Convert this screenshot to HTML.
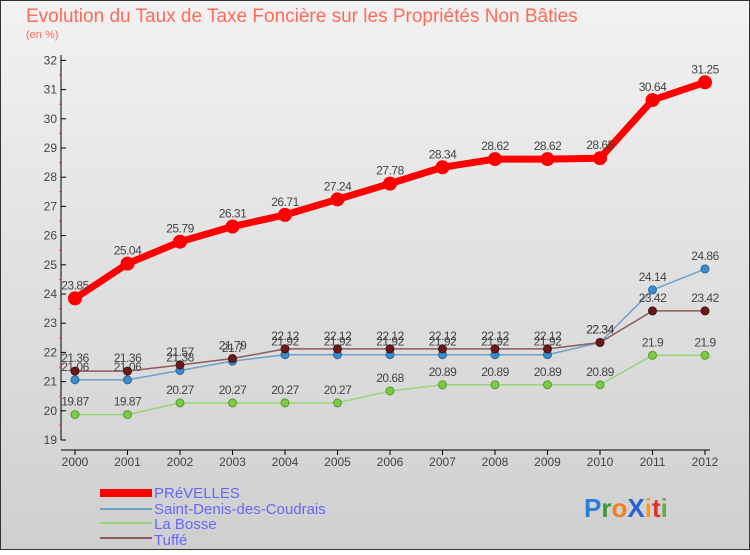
<!DOCTYPE html>
<html><head><meta charset="utf-8"><style>
body{margin:0;width:750px;height:550px;overflow:hidden;font-family:"Liberation Sans",sans-serif}
svg text{font-family:"Liberation Sans",sans-serif}
</style></head><body>
<svg id="chart" width="750" height="550" xmlns="http://www.w3.org/2000/svg">
<defs><linearGradient id="bg" x1="0" y1="0" x2="0" y2="1"><stop offset="0" stop-color="#f2f2f2"/><stop offset="1" stop-color="#cfcfcf"/></linearGradient></defs>
<rect x="0.5" y="0.5" width="749" height="549" fill="url(#bg)" stroke="#333"/>
<text x="26" y="22" font-size="19" fill="#ff6a5a">Evolution du Taux de Taxe Foncière sur les Propriétés Non Bâties</text>
<text x="26" y="38" font-size="11" fill="#ff6a5a">(en %)</text>
<g id="axes"></g><g id="series"></g>
<g>
<rect x="100" y="489" width="52" height="8" fill="#ff0000"/><text x="154" y="498" font-size="15" fill="#6666ff">PRéVELLES</text>
<rect x="100" y="508" width="52" height="2" fill="#6fa0c8"/><text x="154" y="514" font-size="15" fill="#6666ff">Saint-Denis-des-Coudrais</text>
<rect x="100" y="522" width="52" height="2" fill="#99d47a"/><text x="154" y="529" font-size="15" fill="#6666ff">La Bosse</text>
<rect x="100" y="537" width="52" height="2" fill="#8b5a5a"/><text x="154" y="545" font-size="15" fill="#6666ff">Tuffé</text>
</g>
<text x="584" y="517" font-size="26" font-weight="bold"><tspan fill="#2a7fd4">P</tspan><tspan fill="#3a9a3a">r</tspan><tspan fill="#f08020">o</tspan><tspan fill="#2a5fd4">X</tspan><tspan fill="#f0a020">i</tspan><tspan fill="#e03030">t</tspan><tspan fill="#60b040">i</tspan></text>
</svg>
<script>
const years=[2000,2001,2002,2003,2004,2005,2006,2007,2008,2009,2010,2011,2012];
const prevelles=[23.85,25.04,25.79,26.31,26.71,27.24,27.78,28.34,28.62,28.62,28.65,30.64,31.25];
const saintDenis=[21.06,21.06,21.38,21.7,21.92,21.92,21.92,21.92,21.92,21.92,22.34,24.14,24.86];
const laBosse=[19.87,19.87,20.27,20.27,20.27,20.27,20.68,20.89,20.89,20.89,20.89,21.9,21.9];
const tuffe=[21.36,21.36,21.57,21.79,22.12,22.12,22.12,22.12,22.12,22.12,22.34,23.42,23.42];
const yTicks=[19,20,21,22,23,24,25,26,27,28,29,30,31,32];
const NS="http://www.w3.org/2000/svg";
const xs=i=>75+i*52.5;
const ys=v=>440-(v-19)*29.2;
function mk(tag,attrs,parent,txt){const e=document.createElementNS(NS,tag);for(const k in attrs)e.setAttribute(k,attrs[k]);if(txt!==undefined)e.textContent=txt;parent.appendChild(e);return e;}
const ax=document.getElementById('axes');
let l=mk('line',{x1:61,y1:55,x2:61,y2:440,stroke:'#000'},ax);


l=mk('line',{x1:61,y1:450,x2:710,y2:450,stroke:'#000'},ax);


yTicks.forEach(v=>{
  mk('line',{x1:61,y1:ys(v),x2:66,y2:ys(v),stroke:'#000'},ax);
  if(v<32)mk('line',{x1:59,y1:ys(v+0.5),x2:62,y2:ys(v+0.5),stroke:'#f33'},ax);
  const t=mk('text',{x:57,y:ys(v)+4,'font-size':12,fill:'#444','text-anchor':'end'},ax,v);
  
  
});
years.forEach((y,i)=>{
  mk('line',{x1:xs(i),y1:450,x2:xs(i),y2:455,stroke:'#000'},ax);
  const t=mk('text',{x:xs(i),y:466,'font-size':12,fill:'#444','text-anchor':'middle'},ax,y);
  
  
});
const sg=document.getElementById('series');
function series(data,name,color,w,r,fill,stroke){
  const g=mk('g',{},sg);
  
  
  mk('polyline',{points:data.map((v,i)=>xs(i)+','+ys(v)).join(' '),fill:'none',stroke:color,'stroke-width':w,'stroke-linejoin':'round'},g);
  data.forEach((v,i)=>{
    const c=mk('circle',{cx:xs(i),cy:ys(v),r:r,fill:fill,stroke:stroke,'stroke-width':1},g);
    
    
    mk('text',{x:xs(i),y:ys(v)-9,'font-size':12,fill:'#444','text-anchor':'middle','letter-spacing':'-0.5'},g,v);
  });
}
series(laBosse,'la-bosse-series','#99d47a',1.5,4,'#7acc44','#5a9a30');
series(saintDenis,'saint-denis-series','#6fa0c8',1.5,4,'#3a8acc','#2a6a9a');
series(tuffe,'tuffe-series','#8b5a5a',1.5,4,'#6a1a1a','#4a1010');
series(prevelles,'prevelles-series','#ff0000',7,6.5,'#ff0000','#ff0000');
</script>
</body></html>
